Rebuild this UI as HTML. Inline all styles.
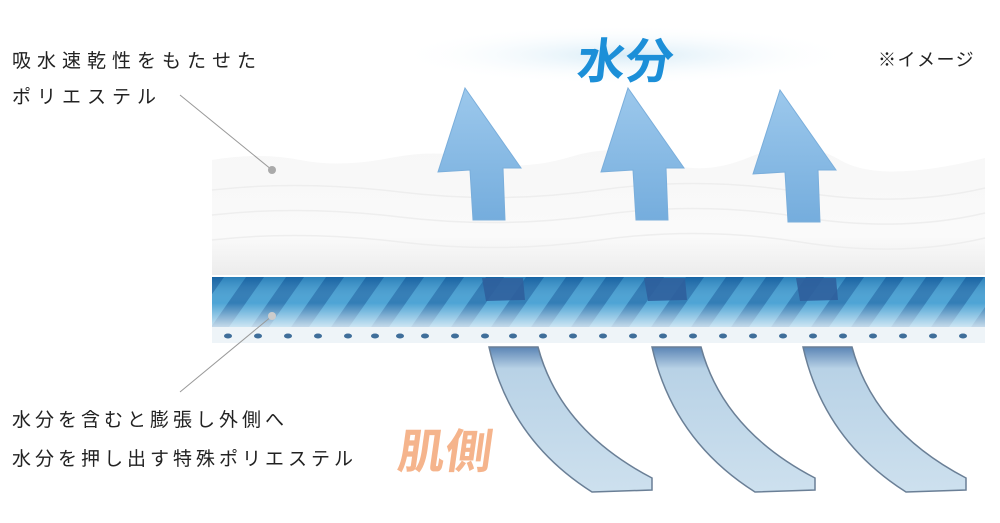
<!DOCTYPE html>
<html><head><meta charset="utf-8"><style>
body{margin:0;width:1000px;height:523px;background:#fff;overflow:hidden;position:relative;font-family:"Liberation Sans","Noto Sans CJK JP",sans-serif}
.t{position:absolute;font-size:19px;color:#222;letter-spacing:6px;white-space:nowrap}
</style></head><body>
<svg width="1000" height="523" style="position:absolute;left:0;top:0">
<defs>
<radialGradient id="glow" cx="50%" cy="50%" r="50%"><stop offset="0" stop-color="#d8ecf7"/><stop offset="1" stop-color="#fff" stop-opacity="0"/></radialGradient>
<linearGradient id="wl" x1="0" y1="0" x2="0" y2="1"><stop offset="0" stop-color="#f7f7f7"/><stop offset="0.7" stop-color="#fafafa"/><stop offset="1" stop-color="#ececec"/></linearGradient>
<pattern id="stripe" width="40" height="50" patternUnits="userSpaceOnUse" patternTransform="skewX(-35)">
<rect width="40" height="50" fill="#3a9ad0"/><rect width="18" height="50" fill="#1c6fae"/></pattern>
<linearGradient id="fade" x1="0" y1="0" x2="0" y2="1"><stop offset="0" stop-color="#0d4f8f" stop-opacity="0.35"/><stop offset="0.5" stop-color="#fff" stop-opacity="0.1"/><stop offset="1" stop-color="#fff" stop-opacity="0.8"/></linearGradient>
<linearGradient id="arr" x1="0" y1="0" x2="0" y2="1"><stop offset="0" stop-color="#9cc8ec"/><stop offset="1" stop-color="#75addd"/></linearGradient>
<linearGradient id="band" x1="0" y1="0" x2="0" y2="1"><stop offset="0" stop-color="#5b85b5"/><stop offset="0.15" stop-color="#b8d2e6"/><stop offset="1" stop-color="#cde0ee"/></linearGradient>
</defs>
<ellipse cx="625" cy="55" rx="230" ry="30" fill="url(#glow)"/>
<path d="M212 160 Q260 152 300 160 T390 158 T480 160 T570 157 T660 160 T750 157 T840 160 T985 158 L985 275 L212 275 Z" fill="url(#wl)"/>
<g stroke="#eeeeee" fill="none" stroke-width="1.5">
<path d="M212 190 Q300 180 400 192 T600 190 T800 192 T985 188"/>
<path d="M212 215 Q300 205 400 217 T600 215 T800 217 T985 213"/>
<path d="M212 240 Q300 230 400 242 T600 240 T800 242 T985 238"/>
</g>
<rect x="212" y="277" width="773" height="52" fill="url(#stripe)"/>
<rect x="212" y="277" width="773" height="52" fill="url(#fade)"/>
<rect x="212" y="327" width="773" height="16" fill="#eef4f8"/>
<g fill="#3f6e9a">
<ellipse cx="228" cy="336" rx="4" ry="2.5"/><ellipse cx="258" cy="336" rx="4" ry="2.5"/><ellipse cx="288" cy="336" rx="4" ry="2.5"/><ellipse cx="318" cy="336" rx="4" ry="2.5"/><ellipse cx="348" cy="336" rx="4" ry="2.5"/><ellipse cx="375" cy="336" rx="4" ry="2.5"/><ellipse cx="400" cy="336" rx="4" ry="2.5"/><ellipse cx="425" cy="336" rx="4" ry="2.5"/><ellipse cx="455" cy="336" rx="4" ry="2.5"/><ellipse cx="485" cy="336" rx="4" ry="2.5"/><ellipse cx="513" cy="336" rx="4" ry="2.5"/><ellipse cx="543" cy="336" rx="4" ry="2.5"/><ellipse cx="573" cy="336" rx="4" ry="2.5"/><ellipse cx="603" cy="336" rx="4" ry="2.5"/><ellipse cx="633" cy="336" rx="4" ry="2.5"/><ellipse cx="663" cy="336" rx="4" ry="2.5"/><ellipse cx="693" cy="336" rx="4" ry="2.5"/><ellipse cx="723" cy="336" rx="4" ry="2.5"/><ellipse cx="753" cy="336" rx="4" ry="2.5"/><ellipse cx="783" cy="336" rx="4" ry="2.5"/><ellipse cx="813" cy="336" rx="4" ry="2.5"/><ellipse cx="843" cy="336" rx="4" ry="2.5"/><ellipse cx="873" cy="336" rx="4" ry="2.5"/><ellipse cx="903" cy="336" rx="4" ry="2.5"/><ellipse cx="933" cy="336" rx="4" ry="2.5"/><ellipse cx="963" cy="336" rx="4" ry="2.5"/>
</g>
<g fill="#2f5f9c" opacity="0.9">
<path d="M482 278 L523 278 L525 300 L486 301 Z"/>
<path d="M644 278 L685 278 L687 300 L648 301 Z"/>
<path d="M796 278 L836 278 L838 300 L800 301 Z"/>
</g>
<g fill="url(#arr)" stroke="#7aaedb" stroke-width="1">
<path d="M465 88 L521 168 L503 168 L505 220 L473 220 L470 170 L438 172 Z"/>
<path d="M628 88 L684 168 L666 168 L668 220 L636 220 L633 170 L601 172 Z"/>
<path d="M780 90 L836 170 L818 170 L820 222 L788 222 L785 172 L753 174 Z"/>
</g>
<g fill="url(#band)" stroke="#6a7f96" stroke-width="1.5">
<path d="M489 347 L538 347 Q560 430 652 478 L652 490 L592 492 Q510 440 489 347 Z"/>
<path d="M652 347 L701 347 Q723 430 815 478 L815 490 L755 492 Q673 440 652 347 Z"/>
<path d="M803 347 L852 347 Q874 430 966 478 L966 490 L906 492 Q824 440 803 347 Z"/>
</g>
<g stroke="#999" stroke-width="1"><line x1="180" y1="95" x2="272" y2="170"/><line x1="180" y1="392" x2="272" y2="316"/></g>
<circle cx="272" cy="170" r="4" fill="#aaa"/><circle cx="272" cy="316" r="4" fill="#ccc"/>
<text x="578" y="78" font-family="Liberation Sans,Noto Sans CJK JP,sans-serif" font-weight="bold" font-size="48" fill="#1c8fd8" transform="skewX(-6) translate(6,0)">水分</text>
<text x="400" y="468" font-family="Liberation Sans,Noto Sans CJK JP,sans-serif" font-weight="bold" font-size="47" fill="#f5b48c" transform="skewX(-8) translate(62,0)">肌側</text>
</svg>
<div class="t" style="left:12px;top:46px">吸水速乾性をもたせた</div>
<div class="t" style="left:12px;top:82px">ポリエステル</div>
<div class="t" style="left:12px;top:405px;letter-spacing:4px">水分を含むと膨張し外側へ</div>
<div class="t" style="left:12px;top:444px;letter-spacing:4px">水分を押し出す特殊ポリエステル</div>
<div class="t" style="left:878px;top:46px;font-size:18px;letter-spacing:1.5px">※イメージ</div>
</body></html>
